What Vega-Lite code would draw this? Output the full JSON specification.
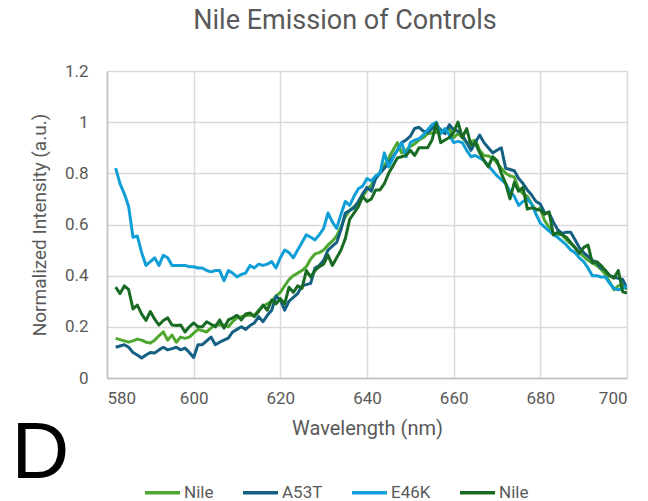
{
  "$schema": "https://vega.github.io/schema/vega-lite/v6.json",
  "autosize": {"type": "none"},
  "width": 520,
  "height": 307,
  "padding": {"left": 107, "top": 71, "right": 21, "bottom": 123},
  "background": "white",
  "config": {
    "font": "Roboto",
    "view": {"stroke": null},
    "axis": {
      "labelColor": "#595959",
      "titleColor": "#595959",
      "labelFontSize": 17,
      "titleFontSize": 20,
      "titleFontWeight": "normal",
      "gridColor": "#D9D9D9",
      "gridWidth": 1.5,
      "domainColor": "#BFBFBF",
      "domainWidth": 1.5,
      "ticks": false
    }
  },
  "title": {
    "text": "Nile Emission of Controls",
    "fontSize": 27,
    "fontWeight": "normal",
    "color": "#595959",
    "offset": 27,
    "dx": -22
  },
  "datasets": {
    "spectra": [
      {"nm": 582, "Nile": 0.155, "A53T": 0.12, "E46K": 0.82, "Nile 2": 0.355},
      {"nm": 583, "Nile": 0.15, "A53T": 0.125, "E46K": 0.76, "Nile 2": 0.33},
      {"nm": 584, "Nile": 0.145, "A53T": 0.13, "E46K": 0.72, "Nile 2": 0.36},
      {"nm": 585, "Nile": 0.14, "A53T": 0.12, "E46K": 0.67, "Nile 2": 0.345},
      {"nm": 586, "Nile": 0.145, "A53T": 0.1, "E46K": 0.55, "Nile 2": 0.27},
      {"nm": 587, "Nile": 0.152, "A53T": 0.09, "E46K": 0.555, "Nile 2": 0.285},
      {"nm": 588, "Nile": 0.148, "A53T": 0.078, "E46K": 0.49, "Nile 2": 0.25},
      {"nm": 589, "Nile": 0.14, "A53T": 0.09, "E46K": 0.44, "Nile 2": 0.225},
      {"nm": 590, "Nile": 0.137, "A53T": 0.1, "E46K": 0.455, "Nile 2": 0.26},
      {"nm": 591, "Nile": 0.148, "A53T": 0.098, "E46K": 0.47, "Nile 2": 0.23},
      {"nm": 592, "Nile": 0.165, "A53T": 0.11, "E46K": 0.44, "Nile 2": 0.207},
      {"nm": 593, "Nile": 0.18, "A53T": 0.12, "E46K": 0.48, "Nile 2": 0.225},
      {"nm": 594, "Nile": 0.148, "A53T": 0.11, "E46K": 0.47, "Nile 2": 0.235},
      {"nm": 595, "Nile": 0.168, "A53T": 0.115, "E46K": 0.44, "Nile 2": 0.207},
      {"nm": 596, "Nile": 0.14, "A53T": 0.12, "E46K": 0.44, "Nile 2": 0.205},
      {"nm": 597, "Nile": 0.16, "A53T": 0.11, "E46K": 0.44, "Nile 2": 0.207},
      {"nm": 598, "Nile": 0.155, "A53T": 0.117, "E46K": 0.44, "Nile 2": 0.18},
      {"nm": 599, "Nile": 0.16, "A53T": 0.1, "E46K": 0.435, "Nile 2": 0.2},
      {"nm": 600, "Nile": 0.175, "A53T": 0.08, "E46K": 0.435, "Nile 2": 0.215},
      {"nm": 601, "Nile": 0.19, "A53T": 0.13, "E46K": 0.43, "Nile 2": 0.2},
      {"nm": 602, "Nile": 0.185, "A53T": 0.13, "E46K": 0.43, "Nile 2": 0.2},
      {"nm": 603, "Nile": 0.18, "A53T": 0.145, "E46K": 0.42, "Nile 2": 0.22},
      {"nm": 604, "Nile": 0.195, "A53T": 0.16, "E46K": 0.415, "Nile 2": 0.21},
      {"nm": 605, "Nile": 0.207, "A53T": 0.13, "E46K": 0.42, "Nile 2": 0.2},
      {"nm": 606, "Nile": 0.207, "A53T": 0.14, "E46K": 0.42, "Nile 2": 0.227},
      {"nm": 607, "Nile": 0.207, "A53T": 0.148, "E46K": 0.38, "Nile 2": 0.195},
      {"nm": 608, "Nile": 0.2, "A53T": 0.156, "E46K": 0.42, "Nile 2": 0.227},
      {"nm": 609, "Nile": 0.22, "A53T": 0.18, "E46K": 0.41, "Nile 2": 0.235},
      {"nm": 610, "Nile": 0.235, "A53T": 0.19, "E46K": 0.395, "Nile 2": 0.245},
      {"nm": 611, "Nile": 0.24, "A53T": 0.2, "E46K": 0.405, "Nile 2": 0.227},
      {"nm": 612, "Nile": 0.243, "A53T": 0.19, "E46K": 0.41, "Nile 2": 0.25},
      {"nm": 613, "Nile": 0.245, "A53T": 0.205, "E46K": 0.44, "Nile 2": 0.254},
      {"nm": 614, "Nile": 0.245, "A53T": 0.215, "E46K": 0.43, "Nile 2": 0.24},
      {"nm": 615, "Nile": 0.265, "A53T": 0.24, "E46K": 0.445, "Nile 2": 0.26},
      {"nm": 616, "Nile": 0.28, "A53T": 0.22, "E46K": 0.44, "Nile 2": 0.285},
      {"nm": 617, "Nile": 0.29, "A53T": 0.245, "E46K": 0.445, "Nile 2": 0.265},
      {"nm": 618, "Nile": 0.3, "A53T": 0.265, "E46K": 0.455, "Nile 2": 0.305},
      {"nm": 619, "Nile": 0.32, "A53T": 0.32, "E46K": 0.43, "Nile 2": 0.29},
      {"nm": 620, "Nile": 0.335, "A53T": 0.305, "E46K": 0.47, "Nile 2": 0.31},
      {"nm": 621, "Nile": 0.36, "A53T": 0.265, "E46K": 0.5, "Nile 2": 0.29},
      {"nm": 622, "Nile": 0.385, "A53T": 0.3, "E46K": 0.49, "Nile 2": 0.355},
      {"nm": 623, "Nile": 0.4, "A53T": 0.315, "E46K": 0.47, "Nile 2": 0.335},
      {"nm": 624, "Nile": 0.41, "A53T": 0.33, "E46K": 0.5, "Nile 2": 0.36},
      {"nm": 625, "Nile": 0.42, "A53T": 0.36, "E46K": 0.53, "Nile 2": 0.35},
      {"nm": 626, "Nile": 0.435, "A53T": 0.365, "E46K": 0.56, "Nile 2": 0.42},
      {"nm": 627, "Nile": 0.465, "A53T": 0.37, "E46K": 0.55, "Nile 2": 0.395},
      {"nm": 628, "Nile": 0.485, "A53T": 0.43, "E46K": 0.54, "Nile 2": 0.42},
      {"nm": 629, "Nile": 0.49, "A53T": 0.44, "E46K": 0.56, "Nile 2": 0.435},
      {"nm": 630, "Nile": 0.5, "A53T": 0.46, "E46K": 0.585, "Nile 2": 0.445},
      {"nm": 631, "Nile": 0.52, "A53T": 0.5, "E46K": 0.645, "Nile 2": 0.48},
      {"nm": 632, "Nile": 0.535, "A53T": 0.515, "E46K": 0.61, "Nile 2": 0.44},
      {"nm": 633, "Nile": 0.555, "A53T": 0.53, "E46K": 0.585, "Nile 2": 0.47},
      {"nm": 634, "Nile": 0.59, "A53T": 0.58, "E46K": 0.64, "Nile 2": 0.5},
      {"nm": 635, "Nile": 0.63, "A53T": 0.645, "E46K": 0.69, "Nile 2": 0.545},
      {"nm": 636, "Nile": 0.655, "A53T": 0.655, "E46K": 0.675, "Nile 2": 0.62},
      {"nm": 637, "Nile": 0.67, "A53T": 0.665, "E46K": 0.71, "Nile 2": 0.645},
      {"nm": 638, "Nile": 0.685, "A53T": 0.69, "E46K": 0.74, "Nile 2": 0.67},
      {"nm": 639, "Nile": 0.71, "A53T": 0.72, "E46K": 0.75, "Nile 2": 0.71},
      {"nm": 640, "Nile": 0.735, "A53T": 0.745, "E46K": 0.78, "Nile 2": 0.69},
      {"nm": 641, "Nile": 0.755, "A53T": 0.73, "E46K": 0.77, "Nile 2": 0.7},
      {"nm": 642, "Nile": 0.78, "A53T": 0.78, "E46K": 0.79, "Nile 2": 0.735},
      {"nm": 643, "Nile": 0.805, "A53T": 0.8, "E46K": 0.8, "Nile 2": 0.735},
      {"nm": 644, "Nile": 0.83, "A53T": 0.82, "E46K": 0.88, "Nile 2": 0.76},
      {"nm": 645, "Nile": 0.86, "A53T": 0.84, "E46K": 0.825, "Nile 2": 0.8},
      {"nm": 646, "Nile": 0.89, "A53T": 0.865, "E46K": 0.86, "Nile 2": 0.83},
      {"nm": 647, "Nile": 0.92, "A53T": 0.89, "E46K": 0.89, "Nile 2": 0.86},
      {"nm": 648, "Nile": 0.88, "A53T": 0.92, "E46K": 0.92, "Nile 2": 0.865},
      {"nm": 649, "Nile": 0.89, "A53T": 0.93, "E46K": 0.865, "Nile 2": 0.87},
      {"nm": 650, "Nile": 0.905, "A53T": 0.945, "E46K": 0.92, "Nile 2": 0.89},
      {"nm": 651, "Nile": 0.915, "A53T": 0.975, "E46K": 0.93, "Nile 2": 0.87},
      {"nm": 652, "Nile": 0.93, "A53T": 0.98, "E46K": 0.935, "Nile 2": 0.9},
      {"nm": 653, "Nile": 0.94, "A53T": 0.965, "E46K": 0.95, "Nile 2": 0.9},
      {"nm": 654, "Nile": 0.955, "A53T": 0.96, "E46K": 0.97, "Nile 2": 0.9},
      {"nm": 655, "Nile": 0.958, "A53T": 0.975, "E46K": 0.99, "Nile 2": 0.93},
      {"nm": 656, "Nile": 0.96, "A53T": 0.99, "E46K": 1.0, "Nile 2": 0.995},
      {"nm": 657, "Nile": 0.965, "A53T": 0.97, "E46K": 0.955, "Nile 2": 0.92},
      {"nm": 658, "Nile": 0.97, "A53T": 0.955, "E46K": 0.975, "Nile 2": 0.93},
      {"nm": 659, "Nile": 0.975, "A53T": 0.99, "E46K": 0.95, "Nile 2": 0.94},
      {"nm": 660, "Nile": 0.94, "A53T": 0.97, "E46K": 0.92, "Nile 2": 0.96},
      {"nm": 661, "Nile": 0.955, "A53T": 0.965, "E46K": 0.925, "Nile 2": 1.0},
      {"nm": 662, "Nile": 0.94, "A53T": 0.95, "E46K": 0.92, "Nile 2": 0.94},
      {"nm": 663, "Nile": 0.92, "A53T": 0.92, "E46K": 0.89, "Nile 2": 0.975},
      {"nm": 664, "Nile": 0.925, "A53T": 0.89, "E46K": 0.865, "Nile 2": 0.91},
      {"nm": 665, "Nile": 0.93, "A53T": 0.92, "E46K": 0.87, "Nile 2": 0.92},
      {"nm": 666, "Nile": 0.89, "A53T": 0.95, "E46K": 0.86, "Nile 2": 0.88},
      {"nm": 667, "Nile": 0.87, "A53T": 0.92, "E46K": 0.85, "Nile 2": 0.85},
      {"nm": 668, "Nile": 0.868, "A53T": 0.9, "E46K": 0.83, "Nile 2": 0.825},
      {"nm": 669, "Nile": 0.86, "A53T": 0.88, "E46K": 0.81, "Nile 2": 0.865},
      {"nm": 670, "Nile": 0.84, "A53T": 0.89, "E46K": 0.79, "Nile 2": 0.85},
      {"nm": 671, "Nile": 0.82, "A53T": 0.9, "E46K": 0.775, "Nile 2": 0.8},
      {"nm": 672, "Nile": 0.8, "A53T": 0.82, "E46K": 0.76, "Nile 2": 0.76},
      {"nm": 673, "Nile": 0.79, "A53T": 0.815, "E46K": 0.73, "Nile 2": 0.7},
      {"nm": 674, "Nile": 0.785, "A53T": 0.81, "E46K": 0.71, "Nile 2": 0.765},
      {"nm": 675, "Nile": 0.74, "A53T": 0.78, "E46K": 0.675, "Nile 2": 0.73},
      {"nm": 676, "Nile": 0.72, "A53T": 0.76, "E46K": 0.69, "Nile 2": 0.745},
      {"nm": 677, "Nile": 0.71, "A53T": 0.735, "E46K": 0.7, "Nile 2": 0.66},
      {"nm": 678, "Nile": 0.68, "A53T": 0.715, "E46K": 0.68, "Nile 2": 0.665},
      {"nm": 679, "Nile": 0.655, "A53T": 0.69, "E46K": 0.64, "Nile 2": 0.66},
      {"nm": 680, "Nile": 0.665, "A53T": 0.68, "E46K": 0.605, "Nile 2": 0.655},
      {"nm": 681, "Nile": 0.615, "A53T": 0.645, "E46K": 0.59, "Nile 2": 0.64},
      {"nm": 682, "Nile": 0.59, "A53T": 0.645, "E46K": 0.575, "Nile 2": 0.65},
      {"nm": 683, "Nile": 0.565, "A53T": 0.61, "E46K": 0.56, "Nile 2": 0.56},
      {"nm": 684, "Nile": 0.562, "A53T": 0.58, "E46K": 0.55, "Nile 2": 0.57},
      {"nm": 685, "Nile": 0.56, "A53T": 0.565, "E46K": 0.535, "Nile 2": 0.56},
      {"nm": 686, "Nile": 0.54, "A53T": 0.57, "E46K": 0.52, "Nile 2": 0.55},
      {"nm": 687, "Nile": 0.525, "A53T": 0.57, "E46K": 0.5, "Nile 2": 0.53},
      {"nm": 688, "Nile": 0.51, "A53T": 0.54, "E46K": 0.49, "Nile 2": 0.51},
      {"nm": 689, "Nile": 0.49, "A53T": 0.51, "E46K": 0.47, "Nile 2": 0.487},
      {"nm": 690, "Nile": 0.475, "A53T": 0.49, "E46K": 0.455, "Nile 2": 0.51},
      {"nm": 691, "Nile": 0.46, "A53T": 0.475, "E46K": 0.43, "Nile 2": 0.52},
      {"nm": 692, "Nile": 0.45, "A53T": 0.46, "E46K": 0.4, "Nile 2": 0.45},
      {"nm": 693, "Nile": 0.44, "A53T": 0.45, "E46K": 0.4, "Nile 2": 0.455},
      {"nm": 694, "Nile": 0.425, "A53T": 0.43, "E46K": 0.395, "Nile 2": 0.44},
      {"nm": 695, "Nile": 0.405, "A53T": 0.42, "E46K": 0.395, "Nile 2": 0.42},
      {"nm": 696, "Nile": 0.375, "A53T": 0.4, "E46K": 0.37, "Nile 2": 0.4},
      {"nm": 697, "Nile": 0.345, "A53T": 0.395, "E46K": 0.35, "Nile 2": 0.39},
      {"nm": 698, "Nile": 0.36, "A53T": 0.39, "E46K": 0.345, "Nile 2": 0.42},
      {"nm": 699, "Nile": 0.365, "A53T": 0.385, "E46K": 0.35, "Nile 2": 0.337},
      {"nm": 700, "Nile": 0.345, "A53T": 0.35, "E46K": 0.36, "Nile 2": 0.332}
    ],
    "panel": [{"label": "D"}]
  },
  "layer": [
    {
      "data": {"name": "spectra"},
      "transform": [
        {"fold": ["Nile", "A53T", "E46K", "Nile 2"], "as": ["sample", "intensity"]}
      ],
      "mark": {"type": "line", "strokeWidth": 3, "strokeJoin": "round", "clip": true},
      "encoding": {
        "x": {
          "field": "nm",
          "type": "quantitative",
          "title": "Wavelength (nm)",
          "scale": {"domain": [580, 700], "nice": false, "zero": false},
          "axis": {"values": [580, 600, 620, 640, 660, 680, 700], "labelPadding": 12, "titlePadding": 12}
        },
        "y": {
          "field": "intensity",
          "type": "quantitative",
          "title": "Normalized Intensity (a.u.)",
          "scale": {"domain": [0, 1.2], "nice": false},
          "axis": {"values": [0, 0.2, 0.4, 0.6, 0.8, 1, 1.2], "format": "~g", "labelPadding": 19, "titlePadding": 15, "titleFontSize": 19}
        },
        "color": {
          "field": "sample",
          "type": "nominal",
          "scale": {
            "domain": ["Nile", "A53T", "E46K", "Nile 2"],
            "range": ["#4EA72E", "#156082", "#0F9ED5", "#196B24"]
          },
          "sort": ["Nile", "A53T", "E46K", "Nile 2"],
          "legend": {
            "title": null,
            "orient": "none",
            "direction": "horizontal",
            "legendX": 36,
            "legendY": 402,
            "symbolType": "stroke",
            "symbolSize": 1225,
            "symbolStrokeWidth": 3.5,
            "labelFontSize": 17,
            "labelColor": "#595959",
            "labelOffset": 2,
            "columnPadding": 22,
            "labelExpr": "datum.label == 'Nile 2' ? 'Nile' : datum.label"
          }
        }
      }
    },
    {
      "data": {"name": "panel"},
      "mark": {"type": "text", "fontSize": 80, "font": "Liberation Sans", "color": "black", "align": "center", "baseline": "alphabetic"},
      "encoding": {
        "text": {"field": "label"},
        "x": {"datum": 564.6},
        "y": {"datum": -0.39}
      }
    }
  ]
}
